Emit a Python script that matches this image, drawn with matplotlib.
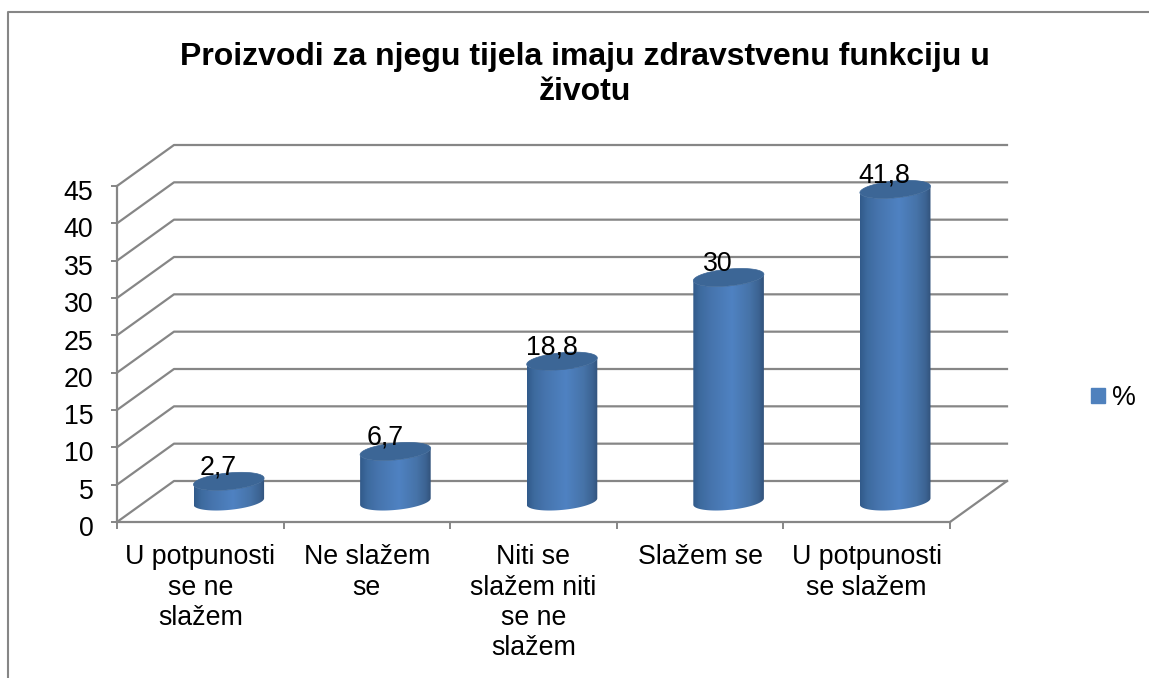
import numpy as np
import matplotlib
matplotlib.use("Agg")
import matplotlib.pyplot as plt
from matplotlib.colors import LinearSegmentedColormap
from matplotlib.lines import Line2D
from matplotlib.patches import Patch, Polygon
from matplotlib.transforms import ScaledTranslation

categories = ["U potpunosti\nse ne\nslažem", "Ne slažem\nse",
              "Niti se\nslažem niti\nse ne\nslažem", "Slažem se",
              "U potpunosti\nse slažem"]
values = [2.7, 6.7, 18.8, 30, 41.8]
value_labels = ["2,7", "6,7", "18,8", "30", "41,8"]
y_ticks = [0, 5, 10, 15, 20, 25, 30, 35, 40, 45]
series_name = "%"
title = "Proizvodi za njegu tijela imaju zdravstvenu funkciju u\nživotu"

GRID = "#868686"
FS = 19.3
W, H = 1149, 678

plt.rcParams["font.family"] = ["Liberation Sans", "DejaVu Sans"]
fig = plt.figure(figsize=(W / 100, H / 100), dpi=100)
ax = fig.add_axes([117 / W, 1 - 522 / H, 833 / W, 336 / H])
ax.patch.set_visible(False)

# oblique depth of the 3d floor, in data units per unit of depth
DX = 57 / (833 / 5)
DY = 41 / (336 / 45)


def project(x, y, d):
    return x + d * DX, y + d * DY


# back wall and side wall gridlines
for v in y_ticks:
    x0, y0 = project(0, v, 0)
    x1, y1 = project(0, v, 1)
    x2, y2 = project(5, v, 1)
    ax.plot([x0, x1, x2], [y0, y1, y2], color=GRID, lw=1.6, clip_on=False, zorder=1)
# right edge of the floor
x0, y0 = project(5, 0, 0)
x1, y1 = project(5, 0, 1)
ax.plot([x0, x1], [y0, y1], color=GRID, lw=1.6, clip_on=False, zorder=1)

cmap = LinearSegmentedColormap.from_list("cyl", [
    (0, "#315a8a"), (0.1, "#3d6a9e"), (0.25, "#4674ad"), (0.55, "#4f82c2"),
    (0.8, "#4673a8"), (0.93, "#3c6392"), (1, "#32527b")])
grad = np.linspace(0, 1, 256).reshape(1, -1)

RX = 0.198   # half width of a cylinder, in category units
RD = 0.22    # half depth, in depth units
t = np.linspace(0, 2 * np.pi, 200)
for i, v in enumerate(values):
    cx = i + 0.5
    ex = cx + DX * 0.5 + RX * np.cos(t) + RD * DX * np.sin(t)
    ey = DY * 0.5 + RD * DY * np.sin(t)
    # outline of side: lower half of base ellipse and top ellipse joined
    left = ex.argmin()
    right = ex.argmax()
    idx = np.arange(left, right + 1) if left < right else np.r_[left:200, 0:right + 1]
    base = np.column_stack([ex[idx], ey[idx]])
    top = np.column_stack([ex[idx][::-1], ey[idx][::-1] + v])
    body = Polygon(np.vstack([base, top]), closed=True, fc="none", ec="none",
                   transform=ax.transData)
    ax.add_patch(body)
    im = ax.imshow(grad, cmap=cmap, aspect="auto", zorder=3,
                   extent=[ex.min(), ex.max(), min(ey) - 1, max(ey) + v + 1])
    im.set_clip_path(body)
    ax.fill(ex, ey + v, color="#3c6696", ec="#3c6696", zorder=4, lw=0.5, clip_on=False)
    ax.annotate(value_labels[i], xy=(cx + DX * 0.5, DY * 0.5 + v), xytext=(-7.5, 5),
                textcoords="offset points", ha="center", va="baseline",
                fontsize=FS, color="black", zorder=5, annotation_clip=False)

ax.set_xlim(0, 5)
ax.set_ylim(0, 45)

for s in ["top", "right"]:
    ax.spines[s].set_visible(False)
for s in ["left", "bottom"]:
    ax.spines[s].set_color(GRID)
    ax.spines[s].set_linewidth(1.6)

ax.set_yticks(y_ticks)
ax.tick_params(axis="y", length=4, width=1.4, color=GRID, pad=13, labelsize=FS)
down = ScaledTranslation(0, -3 / 72, fig.dpi_scale_trans)
for lab in ax.get_yticklabels():
    lab.set_transform(lab.get_transform() + down)
ax.set_xticks(range(6))
ax.set_xticklabels([])
ax.set_xticks(np.arange(5) + 0.5, minor=True)
ax.set_xticklabels(categories, minor=True, fontsize=FS, linespacing=1.22)
ax.tick_params(axis="x", which="major", length=5, width=1.4, color=GRID)
ax.tick_params(axis="x", which="minor", length=0, pad=16)

fig.text(585 / W, 1 - 74.5 / H, title, ha="center", va="center", fontsize=23,
         fontweight="bold", linespacing=1.2)

ax.legend(handles=[Patch(color="#4f81bd", label=series_name)], frameon=False,
          loc="center left", bbox_to_anchor=(1091 / W, 1 - 398 / H),
          bbox_transform=fig.transFigure, fontsize=FS, handlelength=0.52,
          handleheight=0.52, handletextpad=0.26, borderaxespad=0, borderpad=0)

# chart frame, cut off by the screenshot on the right and at the bottom
fig.add_artist(Line2D([8 / W, 8 / W, 1], [0, 1 - 12 / H, 1 - 12 / H],
                      color=GRID, lw=1.5, transform=fig.transFigure))

fig.savefig("out.png", dpi=100)
